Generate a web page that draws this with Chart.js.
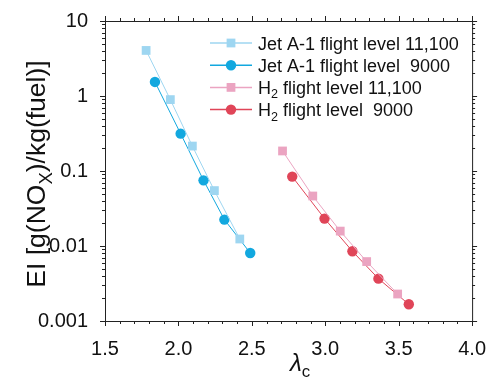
<!DOCTYPE html>
<html>
<head>
<meta charset="utf-8">
<script src="https://cdn.jsdelivr.net/npm/chart.js@4.4.0/dist/chart.umd.min.js"></script>
<style>
  html, body { margin: 0; padding: 0; background: #fff; }
  #wrap { width: 494px; height: 385px; }
</style>
</head>
<body>
<div id="wrap"><canvas id="myChart" width="494" height="385"></canvas></div>
<script>
// values
const jet11100X = [1.78, 1.945, 2.095, 2.245, 2.418];
const jet11100Y = [4.05, 0.895, 0.215, 0.0548, 0.0124];
const jet9000X = [1.84, 2.015, 2.171, 2.313, 2.489];
const jet9000Y = [1.54, 0.315, 0.0751, 0.0225, 0.00807];
const h2_11100X = [2.709, 2.915, 3.102, 3.282, 3.493];
const h2_11100Y = [0.185, 0.0464, 0.0158, 0.0062, 0.00229];
const h2_9000X = [2.775, 2.995, 3.185, 3.362, 3.569];
const h2_9000Y = [0.0842, 0.0232, 0.0085, 0.00367, 0.00167];

const xTicks = [1.5, 2.0, 2.5, 3.0, 3.5, 4.0];
const yTicks = [0.001, 0.01, 0.1, 1, 10];

const FONT = "'Liberation Sans', Arial, sans-serif";
const AXIS_COLOR = "#222";

const toPoints = (xs, ys) => xs.map((x, i) => ({ x: x, y: ys[i] }));

const series = [
  { label: ["Jet A-1 flight level 11,100"], xs: jet11100X, ys: jet11100Y, color: "#9ed6f1", style: "rect", radius: 6.2 },
  { label: ["Jet A-1 flight level  9000"], xs: jet9000X, ys: jet9000Y, color: "#12a8df", style: "circle", radius: 5.2 },
  { label: ["H", "2", " flight level 11,100"], xs: h2_11100X, ys: h2_11100Y, color: "#eba4c1", style: "rect", radius: 6.2 },
  { label: ["H", "2", " flight level  9000"], xs: h2_9000X, ys: h2_9000Y, color: "#e04558", style: "circle", radius: 5.2 },
];

// draws text pieces; odd-indexed pieces are subscripts
function drawRich(ctx, parts, x, y, size, italicFirst) {
  let cx = x;
  parts.forEach((p, i) => {
    const sub = i % 2 === 1;
    const fs = sub ? size * 0.7 : size;
    ctx.font = (italicFirst && i === 0 ? "italic " : "") + fs + "px " + FONT;
    ctx.fillText(p, cx, sub ? y + size * 0.25 : y);
    cx += ctx.measureText(p).width;
  });
  return cx - x;
}
function richWidth(ctx, parts, size, italicFirst) {
  let w = 0;
  parts.forEach((p, i) => {
    const sub = i % 2 === 1;
    ctx.font = (italicFirst && i === 0 ? "italic " : "") + (sub ? size * 0.7 : size) + "px " + FONT;
    w += ctx.measureText(p).width;
  });
  return w;
}

const frameAndTicks = {
  id: "frameAndTicks",
  afterDraw(chart) {
    const { ctx, chartArea: { left, right, top, bottom }, scales: { x, y } } = chart;
    ctx.save();
    ctx.strokeStyle = AXIS_COLOR;
    ctx.lineWidth = 1;
    ctx.strokeRect(left + 0.5, top + 0.5, right - left, bottom - top);

    ctx.beginPath();
    // x ticks every 0.1, major every 0.5
    for (let i = 15; i <= 40; i++) {
      const px = Math.round(x.getPixelForValue(i / 10)) + 0.5;
      const len = i % 5 === 0 ? 5 : 3;
      ctx.moveTo(px, bottom); ctx.lineTo(px, bottom + len);
      ctx.moveTo(px, top); ctx.lineTo(px, top - len);
    }
    // y ticks, log minors
    for (let e = -3; e <= 1; e++) {
      for (let m = 1; m <= 9; m++) {
        const v = m * Math.pow(10, e);
        if (v > 10.0001) break;
        const py = Math.round(y.getPixelForValue(v)) + 0.5;
        const len = m === 1 ? 5 : 3;
        ctx.moveTo(left, py); ctx.lineTo(left - len, py);
        ctx.moveTo(right, py); ctx.lineTo(right + len, py);
      }
    }
    ctx.stroke();

    // axis titles
    ctx.fillStyle = "#111";
    ctx.textBaseline = "alphabetic";
    const yParts = ["EI [g(NO", "X", ")/kg(fuel)]"];
    const ySize = 26.5;
    const yw = richWidth(ctx, yParts, ySize, false);
    ctx.save();
    ctx.translate(45, (top + bottom) / 2 + 3);
    ctx.rotate(-Math.PI / 2);
    drawRich(ctx, yParts, -yw / 2, 0, ySize, false);
    ctx.restore();

    const xParts = ["λ", "c"];
    const xSize = 24;
    const xw = richWidth(ctx, xParts, xSize, true);
    drawRich(ctx, xParts, 300 - xw / 2, 371, xSize, true);

    // legend
    const lx = 210, lw = 42, ly0 = 43, dy = 22.2;
    series.forEach((s, i) => {
      const yy = ly0 + i * dy;
      ctx.strokeStyle = s.color;
      ctx.lineWidth = 1.5;
      ctx.beginPath();
      ctx.moveTo(lx, yy); ctx.lineTo(lx + lw, yy);
      ctx.stroke();
      ctx.fillStyle = s.color;
      const cx = lx + lw / 2;
      if (s.style === "rect") {
        const h = s.radius * Math.SQRT1_2;
        ctx.fillRect(cx - h, yy - h, 2 * h, 2 * h);
      } else {
        ctx.beginPath();
        ctx.arc(cx, yy, s.radius, 0, Math.PI * 2);
        ctx.fill();
      }
      ctx.fillStyle = "#111";
      drawRich(ctx, s.label, lx + lw + 6, yy + 6.5, 18, false);
    });
    ctx.restore();
  },
};

new Chart(document.getElementById("myChart"), {
  type: "line",
  data: {
    datasets: series.map((s) => ({
      label: s.label.join(""),
      data: toPoints(s.xs, s.ys),
      borderColor: s.color,
      backgroundColor: s.color,
      borderWidth: 1,
      pointStyle: s.style,
      pointRadius: s.radius,
      pointBorderWidth: 0,
      pointBackgroundColor: s.color,
      tension: 0,
    })),
  },
  options: {
    responsive: false,
    animation: false,
    layout: { padding: { left: 0, top: 21, right: 16, bottom: 0 } },
    plugins: { legend: { display: false }, tooltip: { enabled: false } },
    scales: {
      x: {
        type: "linear",
        min: 1.5,
        max: 4.0,
        afterBuildTicks: (scale) => { scale.ticks = xTicks.map((v) => ({ value: v })); },
        afterFit: (scale) => { scale.height = 64; },
        grid: { display: false },
        border: { display: false },
        ticks: {
          padding: 8,
          color: "#111",
          font: { family: FONT, size: 20 },
          callback: (v) => Number(v).toFixed(1),
        },
      },
      y: {
        type: "logarithmic",
        min: 0.001,
        max: 10,
        afterBuildTicks: (scale) => { scale.ticks = yTicks.map((v) => ({ value: v })); },
        afterFit: (scale) => { scale.width = 105; },
        grid: { display: false },
        border: { display: false },
        ticks: {
          padding: 9,
          color: "#111",
          font: { family: FONT, size: 20 },
          callback: (v) => String(v),
        },
      },
    },
  },
  plugins: [frameAndTicks],
});
</script>
</body>
</html>
